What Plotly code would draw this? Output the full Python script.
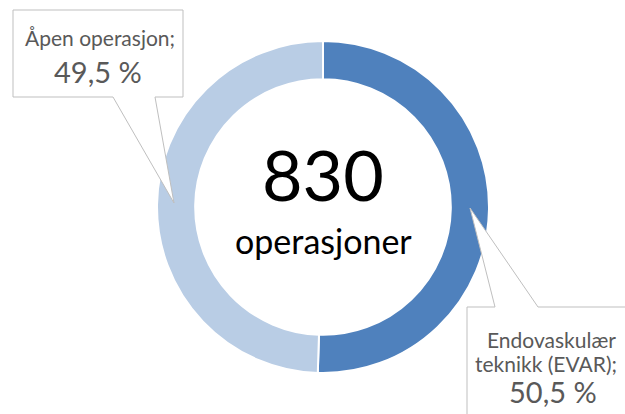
import plotly.graph_objects as go

categories = ["Endovaskulær teknikk (EVAR)", "Åpen operasjon"]
shares = [50.5, 49.5]
share_labels = ["50,5 %", "49,5 %"]
total_ops = 830
colors = ["#4F81BD", "#B9CDE5"]

W, H = 625, 414
cx, cy, R = 323, 207, 166

fig = go.Figure()
fig.add_trace(go.Pie(
    labels=categories, values=shares, sort=False,
    direction="clockwise", rotation=0, hole=0.77,
    marker=dict(colors=colors, line=dict(color="white", width=2)),
    textinfo="none", hoverinfo="label+percent", showlegend=False,
    domain=dict(x=[(cx - R) / W, (cx + R) / W], y=[(H - cy - R) / H, (H - cy + R) / H]),
))

# invisible pixel axes for callouts
fig.update_xaxes(range=[0, W], visible=False, fixedrange=True)
fig.update_yaxes(range=[H, 0], visible=False, fixedrange=True)

border = "#BFBFBF"
# top-left callout
fig.add_shape(type="path", xref="x", yref="y", layer="above",
              path="M 13,10 L 183,10 L 183,97 L 155,97 L 174,203 L 113,97 L 13,97 Z",
              fillcolor="white", line=dict(color=border, width=1))
# bottom-right callout
fig.add_shape(type="path", xref="x", yref="y", layer="above",
              path="M 467,307 L 495,307 L 470,208 L 538,307 L 640,307 L 640,430 L 467,430 Z",
              fillcolor="white", line=dict(color=border, width=1))

font = "Lato"
grey = "#595959"
fig.add_annotation(x=100, y=37, xref="x", yref="y", showarrow=False,
                   text=categories[1] + ";", font=dict(family=font, size=21, color=grey))
fig.add_annotation(x=98, y=71, xref="x", yref="y", showarrow=False,
                   text=share_labels[1], font=dict(family=font, size=29, color=grey))
fig.add_annotation(x=551, y=339, xref="x", yref="y", showarrow=False,
                   text="Endovaskulær", font=dict(family=font, size=21, color=grey))
fig.add_annotation(x=546, y=363, xref="x", yref="y", showarrow=False,
                   text="teknikk (EVAR);", font=dict(family=font, size=21, color=grey))
fig.add_annotation(x=553, y=391, xref="x", yref="y", showarrow=False,
                   text=share_labels[0], font=dict(family=font, size=29, color=grey))
fig.add_annotation(x=cx, y=174, xref="x", yref="y", showarrow=False,
                   text=str(total_ops), font=dict(family=font, size=70, color="black"))
fig.add_annotation(x=cx, y=240, xref="x", yref="y", showarrow=False,
                   text="operasjoner", font=dict(family=font, size=34, color="black"))

fig.update_layout(width=W, height=H, margin=dict(l=0, r=0, t=0, b=0),
                  paper_bgcolor="white", plot_bgcolor="white")
fig.write_html("out.html", config={"displayModeBar": False},
               post_script="document.body.style.margin='0';")
